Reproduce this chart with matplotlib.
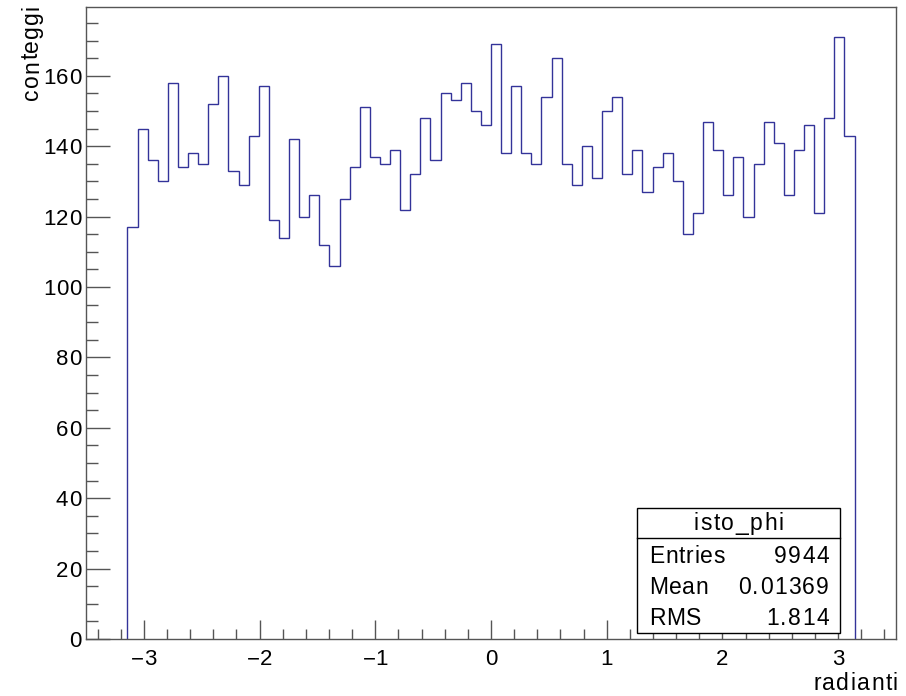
import numpy as np
import matplotlib
matplotlib.use('Agg')
import matplotlib.pyplot as plt
from matplotlib.patches import Rectangle
from matplotlib.lines import Line2D
from matplotlib.ticker import MultipleLocator
from matplotlib import font_manager
from matplotlib.ft2font import FT2Font

# counts per bin of phi, 72 bins between -pi and pi
counts = [117, 145, 136, 130, 158, 134, 138, 135, 152, 160,
          133, 129, 143, 157, 119, 114, 142, 120, 126, 112,
          106, 125, 134, 151, 137, 135, 139, 122, 132, 148,
          136, 155, 153, 158, 150, 146, 169, 138, 157, 138,
          135, 154, 165, 135, 129, 140, 131, 150, 154, 132,
          139, 127, 134, 138, 130, 115, 121, 147, 139, 126,
          137, 120, 135, 147, 141, 126, 139, 146, 121, 148,
          171, 143]
n_bins = 72
x_range = (-np.pi, np.pi)

hist_name = 'isto_phi'
stat_labels = ['Entries', 'Mean', 'RMS']
stat_values = ['9944', '0.01369', '1.814']
x_title = 'radianti'
y_title = 'conteggi'

W, H = 906, 696
FONT = 'Liberation Sans'
plt.rcParams['font.family'] = [FONT, 'DejaVu Sans']

ft = FT2Font(font_manager.findfont(font_manager.FontProperties(family=FONT)))


def fx(px):
    return px / W


def fy(py):
    return 1 - py / H


def advances(s, size):
    ft.set_size(size, 100)
    return [ft.load_char(ord(c)).linearHoriAdvance / 65536 for c in s]


def spaced_text(s, x, y, ha='left', size=16, track=1.0, vertical=False):
    """Text with slightly wider letter spacing, drawn glyph by glyph.
    x, y are pixel coords from the top-left; y is the baseline."""
    adv = advances(s, size)
    total = sum(adv) + track * (len(s) - 1)
    # along-text coordinate: x for horizontal, upward for vertical
    ref = x if not vertical else H - y
    if ha == 'center':
        pos = ref - total / 2
    elif ha == 'right':
        pos = ref - total
    else:
        pos = ref
    for c, a in zip(s, adv):
        if vertical:
            fig.text(fx(x), pos / H, c, rotation=90, rotation_mode='anchor',
                     ha='left', va='baseline', fontsize=size, zorder=7)
        else:
            fig.text(fx(pos), fy(y), c, ha='left', va='baseline',
                     fontsize=size, zorder=7)
        pos += a + track


fig = plt.figure(figsize=(W / 100, H / 100), dpi=100)
ax = fig.add_axes([fx(86), fy(639), 810 / W, 632 / H])

edges = np.linspace(x_range[0], x_range[1], n_bins + 1)
ax.stairs(counts, edges, color='#333399', linewidth=1.0, baseline=0)

ax.set_xlim(-3.5, 3.5)
ax.set_ylim(0, 1.05 * max(counts))

frame_col = '#555555'
for s in ax.spines.values():
    s.set_color(frame_col)
    s.set_linewidth(1.0)

ax.xaxis.set_major_locator(MultipleLocator(1))
ax.xaxis.set_minor_locator(MultipleLocator(0.2))
ax.yaxis.set_major_locator(MultipleLocator(20))
ax.yaxis.set_minor_locator(MultipleLocator(5))

ax.tick_params(axis='x', which='major', direction='in', length=13.5, width=1.0,
               color=frame_col, labelbottom=False)
ax.tick_params(axis='x', which='minor', direction='in', length=7, width=1.0,
               color=frame_col)
ax.tick_params(axis='y', which='major', direction='in', length=17, width=1.0,
               color=frame_col, labelleft=False)
ax.tick_params(axis='y', which='minor', direction='in', length=8.5, width=1.0,
               color=frame_col)

# tick labels, placed from the axes transform
for v in range(-3, 4):
    px, _ = ax.transData.transform((v, 0))
    lab = str(v).replace('-', '\u2212')
    spaced_text(lab, px, 665, ha='center', size=16, track=0.3)
for v in range(0, 180, 20):
    _, py = ax.transData.transform((0, v))
    spaced_text(str(v), 81, H - py + 8, ha='right', size=16, track=0.3)

# axis titles, right/top aligned
spaced_text(x_title, 898, 690, ha='right', size=16.5, track=1.4)
spaced_text(y_title, 38, 5, ha='right', size=16.5, track=1.2, vertical=True)

# stats box
bx0, bx1, by0, by1 = 637, 840, 508, 633
fig.patches.append(Rectangle((fx(bx0), fy(by1)), (bx1 - bx0) / W, (by1 - by0) / H,
                             transform=fig.transFigure, facecolor='white',
                             edgecolor='black', linewidth=1.0, zorder=5))
fig.lines.append(Line2D([fx(bx0), fx(bx1)], [fy(538), fy(538)],
                        transform=fig.transFigure, color='black', linewidth=1.0, zorder=6))
spaced_text(hist_name, (bx0 + bx1) / 2, 530, ha='center', size=16.5, track=1.6)
for i, (lab, val) in enumerate(zip(stat_labels, stat_values)):
    yb = 563 + i * 31
    spaced_text(lab, 649, yb, ha='left', size=16.5, track=0.8)
    spaced_text(val, 829, yb, ha='right', size=16.5, track=1.4)

fig.savefig('out.png', dpi=100)
